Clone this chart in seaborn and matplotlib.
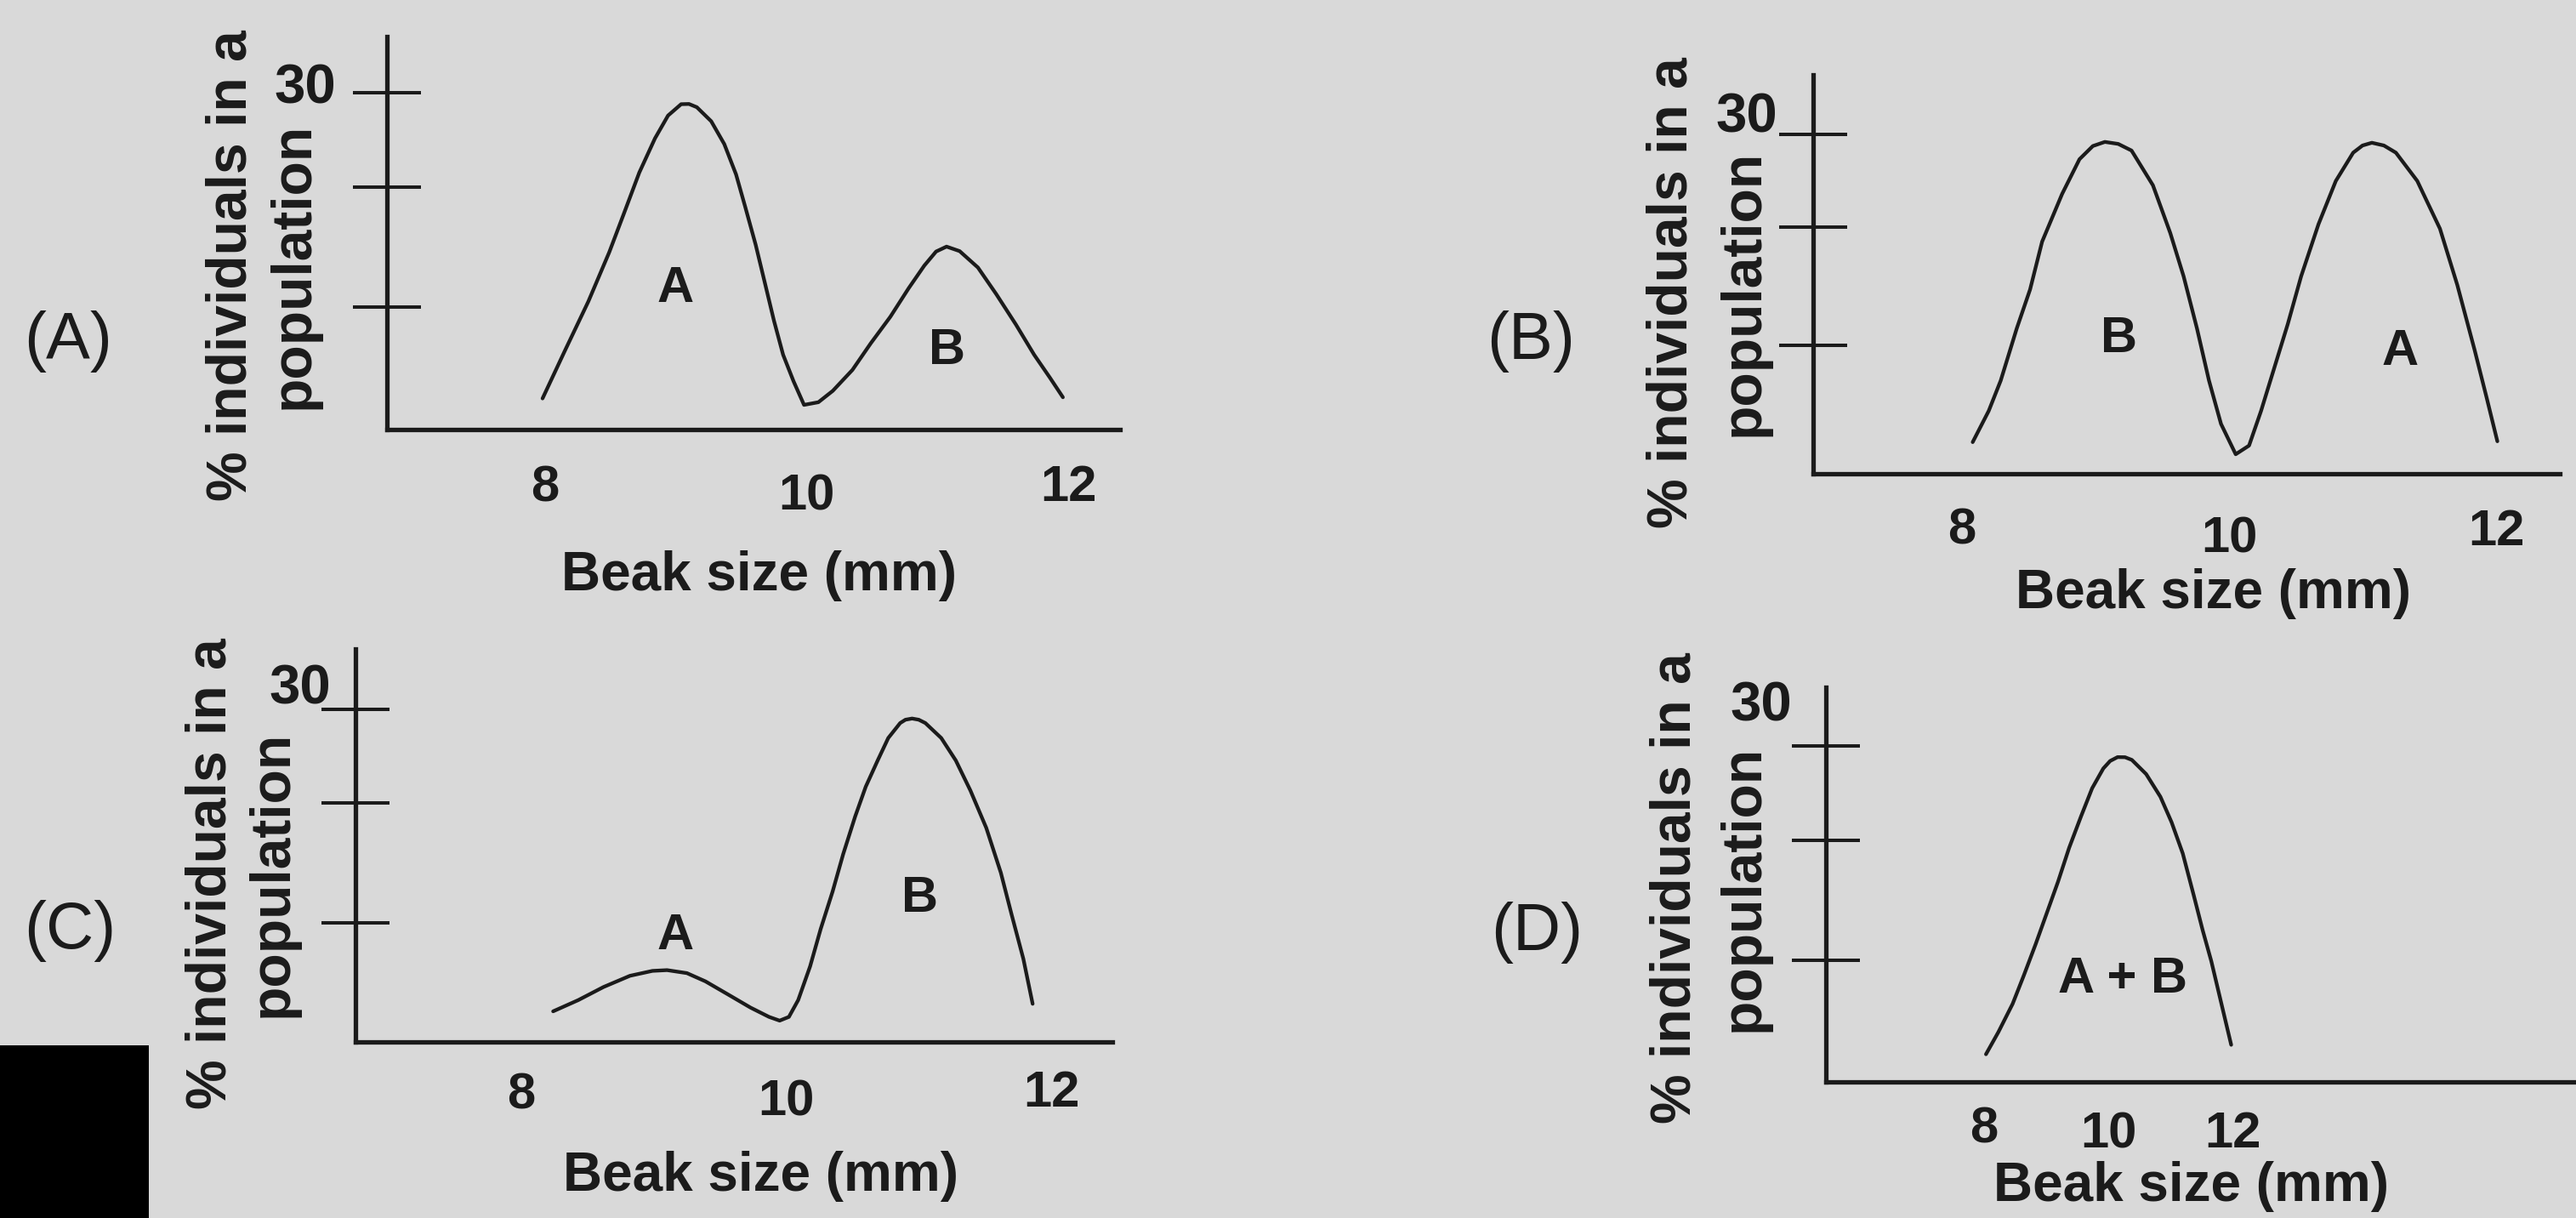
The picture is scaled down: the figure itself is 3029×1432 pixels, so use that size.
import matplotlib
matplotlib.use("Agg")
import matplotlib.pyplot as plt
import matplotlib.transforms as mtransforms
from matplotlib.patches import Rectangle
import seaborn as sns

# ---------------- data ----------------
# Panel (A): large peak A near 9 mm, smaller peak B near 11 mm
a_beak = [7.98, 8.15, 8.33, 8.49, 8.60, 8.72, 8.84, 8.94, 9.04, 9.10, 9.16, 9.27, 9.37,
          9.46, 9.53, 9.61, 9.68, 9.75, 9.82, 9.90, 9.98, 10.09, 10.20, 10.35, 10.49,
          10.64, 10.78, 10.90, 10.99, 11.07, 11.17, 11.31, 11.45, 11.60, 11.74, 11.86, 11.96]
a_pct = [1.47, 5.90, 10.51, 15.11, 18.65, 22.55, 25.74, 27.87, 28.93, 28.95, 28.65, 27.34, 25.21,
         22.38, 19.36, 15.82, 12.28, 8.73, 5.55, 3.07, 0.87, 1.12, 2.18, 4.13, 6.61,
         9.09, 11.75, 13.87, 15.18, 15.64, 15.22, 13.69, 11.21, 8.38, 5.55, 3.42, 1.58]

# Panel (B): two equal peaks, B near 9 mm and A near 11 mm
b_beak = [8.08, 8.20, 8.29, 8.41, 8.51, 8.60, 8.75, 8.88, 8.98, 9.07, 9.17, 9.27, 9.43, 9.56, 9.66,
          9.76, 9.85, 9.94, 10.05, 10.15, 10.24, 10.34, 10.44, 10.54, 10.67, 10.80, 10.93,
          11.00, 11.07, 11.16, 11.25, 11.41, 11.58, 11.71, 11.84, 11.93, 12.01]
b_pct = [0.82, 3.78, 6.66, 11.60, 15.30, 19.83, 24.36, 27.65, 28.90, 29.29, 29.10, 28.47, 25.18, 20.65,
         16.54, 11.60, 6.66, 2.55, -0.33, 0.49, 3.78, 7.90, 12.01, 16.54, 21.48, 25.59,
         28.27, 28.95, 29.21, 28.95, 28.27, 25.59, 21.06, 15.72, 9.54, 5.02, 0.90]

# Panel (C): small peak A near 9 mm, large peak B near 11 mm
c_beak = [8.24, 8.43, 8.62, 8.82, 8.99, 9.10, 9.25, 9.39, 9.56, 9.73, 9.87, 9.95, 10.02,
          10.09, 10.18, 10.26, 10.35, 10.43, 10.52, 10.60, 10.69, 10.77, 10.86, 10.90, 10.95,
          11.00, 11.05, 11.17, 11.28, 11.39, 11.51, 11.62, 11.70, 11.79, 11.86]
c_pct = [1.75, 2.80, 4.02, 5.07, 5.53, 5.60, 5.32, 4.55, 3.33, 2.10, 1.23, 0.88, 1.23,
         2.80, 5.95, 9.45, 12.95, 16.45, 19.95, 22.74, 25.19, 27.29, 28.69, 29.00, 29.11,
         29.00, 28.69, 27.29, 25.19, 22.39, 18.89, 14.70, 10.85, 6.65, 2.45]

# Panel (D): single peak A + B near 10 mm
d_beak = [8.03, 8.23, 8.46, 8.64, 8.83, 9.01, 9.19, 9.37, 9.56, 9.74, 9.92, 10.03, 10.15,
          10.27, 10.38, 10.61, 10.84, 11.02, 11.20, 11.38, 11.52, 11.66, 11.79, 11.98]
d_pct = [1.23, 3.30, 5.94, 8.59, 11.50, 14.41, 17.32, 20.50, 23.41, 26.05, 27.90, 28.60, 28.96,
         28.95, 28.70, 27.38, 25.26, 22.88, 19.97, 15.99, 12.82, 9.91, 6.74, 2.11]

x_ticks = [8, 10, 12]
x_tick_labels = ["8", "10", "12"]
y_ticks = [10, 21.2, 30]          # hand-drawn tick marks as they sit in the picture
y_top_label = "30"
x_title = "Beak size (mm)"
y_title_1 = "% individuals in a"
y_title_2 = "population"
panel_names = ["(A)", "(B)", "(C)", "(D)"]
curve_names = [["A", "B"], ["B", "A"], ["A", "B"], ["A + B"]]

# ---------------- style ----------------
W, H = 3029, 1432
BG = "#d9d9d9"
INK = "#1b1b1b"
sns.set_theme(style="white")
plt.rcParams["font.family"] = ["Liberation Sans", "DejaVu Sans"]

fig = plt.figure(figsize=(W / 100, H / 100), dpi=100, facecolor=BG)


def fx(px):
    return px / W


def fy(py):
    return 1 - py / H


def put(s, x, y, size, weight="bold", rot=0, ha="center"):
    fig.text(fx(x), fy(y), s, ha=ha, va="baseline", fontsize=size, fontweight=weight,
             color=INK, rotation=rot, rotation_mode="anchor")


# layout of each panel (pixel boxes, limits, text anchors)
panels = [
    dict(x=a_beak, y=a_pct, box=(455, 43, 1317, 505), xlim=(6.790, 12.397), ylim=(-1.43, 35.24),
         name=(80, 422), yl=(290, 363, 312), y30=(359, 122), xt=[589, 600, 589],
         xtitle=(893, 694), labels=[(794, 355), (1113, 428)]),
    dict(x=b_beak, y=b_pct, box=(2132, 88, 3010, 557), xlim=(6.885, 12.478), ylim=(-2.18, 35.65),
         name=(1800, 422), yl=(1983, 2068, 344), y30=(2054, 155), xt=[639, 649, 641],
         xtitle=(2603, 715), labels=[(2492, 414), (2822, 429)]),
    dict(x=c_beak, y=c_pct, box=(418, 763, 1308, 1225), xlim=(6.748, 12.462), ylim=(-1.11, 35.61),
         name=(82, 1115), yl=(265, 338, 1027), y30=(353, 827), xt=[1303, 1312, 1301],
         xtitle=(895, 1400), labels=[(794, 1116), (1082, 1072)]),
    dict(x=d_beak, y=d_pct, box=(2147, 808, 3029, 1272), xlim=(5.452, 17.534), ylim=(-1.35, 35.48),
         name=(1807, 1117), yl=(1988, 2068, 1044), y30=(2071, 847), xt=[1344, 1349, 1349],
         xtitle=(2577, 1412), labels=[(2496, 1167)]),
]

for i, p in enumerate(panels):
    l, t, r, b = p["box"]
    ax = fig.add_axes([fx(l), fy(b), (r - l) / W, (b - t) / H])
    ax.set_facecolor("none")
    sns.lineplot(x=p["x"], y=p["y"], ax=ax, color=INK, linewidth=3.1,
                 estimator=None, sort=False, solid_joinstyle="round",
                 solid_capstyle="round")
    ax.set_xlim(*p["xlim"])
    ax.set_ylim(*p["ylim"])
    ax.set_xlabel("")
    ax.set_ylabel("")
    ax.set_xticks([])
    ax.set_yticks(y_ticks)
    ax.tick_params(axis="y", which="major", left=True, right=False, direction="inout",
                   length=57, width=2.9, color=INK, labelleft=False)
    for side in ("top", "right"):
        ax.spines[side].set_visible(False)
    for side in ("left", "bottom"):
        ax.spines[side].set_visible(True)
        ax.spines[side].set_linewidth(3.8)
        ax.spines[side].set_color(INK)

    # x tick labels placed at their data positions
    blend = mtransforms.blended_transform_factory(ax.transData, fig.transFigure)
    for xv, lab, yb in zip(x_ticks, x_tick_labels, p["xt"]):
        ax.text(xv, fy(yb), lab, transform=blend, ha="center", va="baseline",
                fontsize=43, fontweight="bold", color=INK, clip_on=False)

    # top y label
    put(y_top_label, p["y30"][0], p["y30"][1], 47)
    # axis titles
    put(x_title, p["xtitle"][0], p["xtitle"][1], 46)
    put(y_title_1, p["yl"][0], p["yl"][2], 47.5, rot=90)
    put(y_title_2, p["yl"][1], p["yl"][2], 47.5, rot=90)
    # panel name
    put(panel_names[i], p["name"][0], p["name"][1], 56, weight="normal")
    # curve letters
    for s, (lx, ly) in zip(curve_names[i], p["labels"]):
        put(s, lx, ly, 43)

# scanner's black corner block
fig.add_artist(Rectangle((0, 0), 175 / W, (H - 1229) / H, transform=fig.transFigure,
                         facecolor="black", edgecolor="none"))

fig.savefig("out.png", dpi=100, facecolor=BG)
